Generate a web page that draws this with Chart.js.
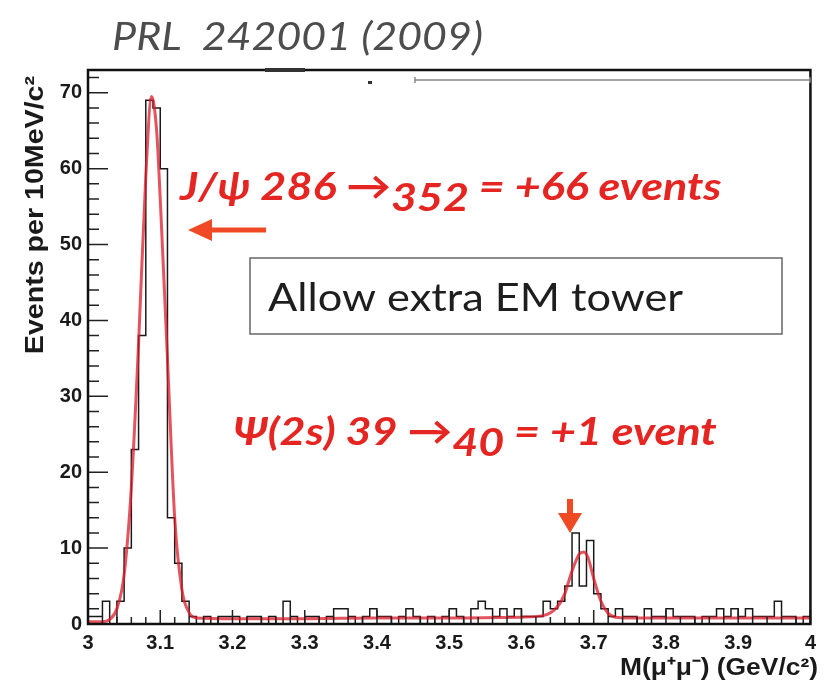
<!DOCTYPE html>
<html><head><meta charset="utf-8">
<script src="https://cdn.jsdelivr.net/npm/chart.js@4.4.0/dist/chart.umd.min.js"></script>
<style>html,body{margin:0;padding:0;background:#fff;}canvas{display:block;}</style>
</head><body>
<canvas id="c" width="823" height="682"></canvas>
<script>
// histogram: 10 MeV bins from 3.00 to 4.00
const binStart=3.0, binWidth=0.01;
const counts=[
 1,1,3,0,3,10,23,38,69,68,
 60,14,8,3,1,0,1,0,1,1,
 1,0,1,1,0,1,0,3,1,0,
 1,1,0,1,2,2,1,0,1,2,
 1,1,0,1,2,1,0,1,0,1,
 2,1,0,2,3,2,1,2,1,2,
 1,1,1,3,2,3,5,12,5,11,
 4,2,1,2,1,1,0,2,1,1,
 2,1,1,1,0,1,1,2,1,2,
 1,2,1,1,1,3,1,1,0,1
];
// fitted curve
const fitX=[3.000,3.020,3.030,3.040,3.050,3.060,3.070,3.080,3.088,3.095,3.100,3.110,3.120,3.130,3.140,3.150,3.200,3.300,3.400,3.500,3.600,3.630,3.650,3.660,3.670,3.680,3.686,3.692,3.700,3.710,3.720,3.730,3.750,3.850,4.000];
const fitY=[0.3,0.3,0.6,2,6.5,18,37,59,69.5,65,56,35,14,4.5,1.5,0.8,0.7,0.7,0.8,0.8,0.9,1.1,2.3,4,7,9.2,9.5,8.8,6,3,1.4,0.9,0.8,0.8,0.8];
const xTicks=[3,3.1,3.2,3.3,3.4,3.5,3.6,3.7,3.8,3.9,4];
const yTicks=[0,10,20,30,40,50,60,70];

const histPts=counts.map((v,i)=>({x:binStart+i*binWidth,y:v}));
histPts.push({x:binStart+counts.length*binWidth,y:counts[counts.length-1]});
const fitPts=fitX.map((x,i)=>({x,y:fitY[i]}));

const RED='#e52521', ARROW='#ef4a24';

// text stretched horizontally, returns advance
function sText(ctx,t,x,y,sx){
  ctx.save(); ctx.translate(x,y); ctx.scale(sx,1); ctx.fillText(t,0,0); ctx.restore();
  return ctx.measureText(t).width*sx;
}
function seq(ctx,x,y,sx,parts){
  parts.forEach(p=>{
    ctx.font=p.f;
    x+=sText(ctx,p.t,x,y+(p.dy||0),sx);
  });
}

const decor={
  id:'decor',
  afterDraw(chart){
    const ctx=chart.ctx, a=chart.chartArea;
    const xs=chart.scales.x, ys=chart.scales.y;
    ctx.save();
    // inward ticks
    ctx.strokeStyle='#222'; ctx.lineWidth=1.5;
    ctx.beginPath();
    for(let k=0;k<=50;k++){
      const v=3+k*0.02, px=xs.getPixelForValue(v);
      const len=(k%5===0)?14:7;
      ctx.moveTo(px,a.bottom); ctx.lineTo(px,a.bottom-len);
    }
    for(let v=0;v<=72;v+=2){
      const py=ys.getPixelForValue(v);
      const len=(v%10===0)?20:11;
      ctx.moveTo(a.left,py); ctx.lineTo(a.left+len,py);
    }
    ctx.stroke();
    // frame
    ctx.strokeStyle='#111'; ctx.lineWidth=2.5;
    ctx.strokeRect(a.left,a.top,a.right-a.left,a.bottom-a.top);
    // leftovers at top of frame
    ctx.fillStyle='#333'; ctx.fillRect(265,68,40,4); ctx.fillRect(368,81,4,3);
    ctx.strokeStyle='#888'; ctx.lineWidth=1.5;
    ctx.beginPath(); ctx.moveTo(415,80); ctx.lineTo(810,80);
    ctx.moveTo(415,77); ctx.lineTo(415,83); ctx.moveTo(810,77); ctx.lineTo(810,83); ctx.stroke();

    // axis titles
    ctx.fillStyle='#1a1a1a';
    ctx.textBaseline='alphabetic'; ctx.textAlign='left';
    ctx.font='bold 24px "Liberation Sans", Arial, sans-serif';
    const xt='M(\u03bc\u207a\u03bc\u207b) (GeV/c\u00b2)';
    const xw=ctx.measureText(xt).width*1.1;
    sText(ctx,xt,818-xw,675,1.1);
    ctx.save();
    ctx.translate(43,76); ctx.rotate(-Math.PI/2);
    ctx.font='bold 26px "Liberation Sans", Arial, sans-serif';
    const yt='Events per 10MeV/c\u00b2';
    const yw=ctx.measureText(yt).width*1.1;
    sText(ctx,yt,-yw,0,1.1);
    ctx.restore();

    // header
    ctx.fillStyle='#4d4d4d';
    ctx.font='italic 38px Lato, sans-serif';
    sText(ctx,'PRL  242001 (2009)',112,50,1.13);

    // box
    ctx.fillStyle='#fff'; ctx.fillRect(250,258,532,76);
    ctx.strokeStyle='#666'; ctx.lineWidth=1.5; ctx.strokeRect(250,258,532,76);
    ctx.fillStyle='#1e1e1e'; ctx.font='38px Lato, sans-serif';
    sText(ctx,'Allow extra EM tower',268,311,1.14);

    // red annotations
    ctx.fillStyle=RED;
    const fR='italic bold 39px Lato, sans-serif';
    seq(ctx,180,200,1.15,[{t:'J/\u03c8 286 ',f:fR},{t:'\u2192',f:fR},{t:'352',f:fR,dy:11},{t:' = +66 events',f:fR}]);
    seq(ctx,233,445,1.15,[{t:'\u03a8(2s) 39 ',f:fR},{t:'\u2192',f:fR},{t:'40',f:fR,dy:11},{t:' = +1 event',f:fR}]);

    // arrows
    ctx.strokeStyle=ARROW; ctx.fillStyle=ARROW; ctx.lineWidth=5;
    ctx.beginPath(); ctx.moveTo(266,230); ctx.lineTo(206,230); ctx.stroke();
    ctx.beginPath(); ctx.moveTo(188,230); ctx.lineTo(212,219); ctx.lineTo(212,241); ctx.closePath(); ctx.fill();
    ctx.lineWidth=6;
    ctx.beginPath(); ctx.moveTo(570,499); ctx.lineTo(570,516); ctx.stroke();
    ctx.beginPath(); ctx.moveTo(558,513); ctx.lineTo(582,513); ctx.lineTo(570,533); ctx.closePath(); ctx.fill();
    ctx.restore();
  }
};

const tickFont={family:'"Liberation Sans", Arial, sans-serif',size:20,weight:'bold'};

new Chart(document.getElementById('c'),{
  type:'line',
  data:{datasets:[
    {label:'fit',data:fitPts,borderColor:'rgba(220,25,40,0.75)',borderWidth:3,pointRadius:0,fill:false,cubicInterpolationMode:'monotone'},
    {label:'data',data:histPts,borderColor:'#1a1a1a',borderWidth:1.5,pointRadius:0,fill:false,stepped:'before'}
  ]},
  options:{
    responsive:false,animation:false,
    layout:{padding:{left:0,right:3,top:70,bottom:0}},
    plugins:{legend:{display:false},tooltip:{enabled:false}},
    scales:{
      x:{type:'linear',min:3,max:4,
        afterFit:s=>{s.height=58;},
        afterBuildTicks:s=>{s.ticks=xTicks.map(v=>({value:v}));},
        grid:{display:false,drawTicks:false},border:{display:false},
        ticks:{padding:7,color:'#1a1a1a',font:tickFont,maxRotation:0,autoSkip:false,callback:v=>String(Math.round(v*10)/10)}},
      y:{type:'linear',min:0,max:73,
        afterFit:s=>{s.width=88;},
        afterBuildTicks:s=>{s.ticks=yTicks.map(v=>({value:v}));},
        grid:{display:false,drawTicks:false},border:{display:false},
        ticks:{padding:6,color:'#1a1a1a',font:tickFont,autoSkip:false}}
    }
  },
  plugins:[decor]
});
</script>
</body></html>
